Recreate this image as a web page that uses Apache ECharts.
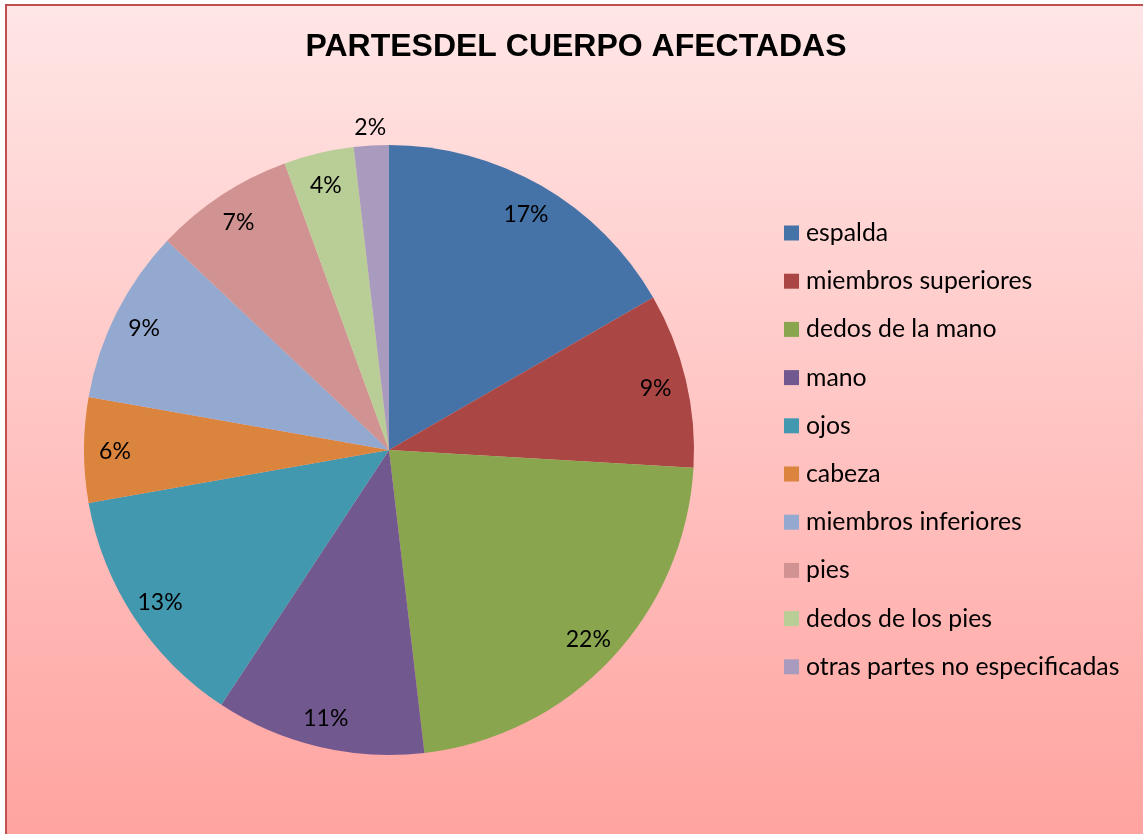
<!DOCTYPE html>
<html>
<head>
<meta charset="utf-8">
<script src="https://cdn.jsdelivr.net/npm/echarts@6/dist/echarts.min.js"></script>
<style>
  html, body { margin: 0; padding: 0; background: #fff; }
  #chart { width: 1143px; height: 834px; }
</style>
</head>
<body>
<div id="chart"></div>
<script>
// partes del cuerpo afectadas (casos)
var categories = ['espalda', 'miembros superiores', 'dedos de la mano', 'mano', 'ojos',
    'cabeza', 'miembros inferiores', 'pies', 'dedos de los pies', 'otras partes no especificadas'];
var casos = [9, 5, 12, 6, 7, 3, 5, 4, 2, 1];
var colores = ['#4572A7', '#AA4643', '#89A54E', '#71588F', '#4198AF',
    '#DB843D', '#93A9CF', '#D19392', '#B9CD96', '#A99BBD'];

var fontTxt = 'Lato, "Open Sans", sans-serif';

var pieData = categories.map(function (name, i) {
    return { name: name, value: casos[i], itemStyle: { color: colores[i] } };
});
// serie transparente solo para las etiquetas
var labelData = categories.map(function (name, i) {
    var item = { name: name, value: casos[i] };
    if (i === categories.length - 1) {
        item.label = { position: 'outside', distanceToLabelLine: 0 };
        item.labelLine = { show: false, length: 18, length2: 0 };
    }
    return item;
});

var myChart = echarts.init(document.getElementById('chart'));
var option = {
    backgroundColor: '#fff',
    animation: false,
    graphic: [{
        type: 'rect',
        z: -10,
        shape: { x: 6, y: 5, width: 1200, height: 900 },
        style: {
            fill: new echarts.graphic.LinearGradient(0, 0, 0, 1, [
                { offset: 0, color: '#FFE6E6' },
                { offset: 1, color: '#FF9E9A' }
            ]),
            stroke: '#C0504D',
            lineWidth: 2
        }
    }],
    title: {
        text: 'PARTESDEL CUERPO AFECTADAS',
        left: 571,
        textAlign: 'center',
        top: 26,
        textStyle: {
            fontFamily: '"Liberation Sans", Arial, sans-serif',
            fontWeight: 'bold',
            fontSize: 32,
            color: '#000'
        }
    },
    legend: {
        orient: 'vertical',
        left: 784,
        top: 220.5,
        padding: 0,
        itemWidth: 15,
        itemHeight: 15,
        itemGap: 23.2,
        icon: 'rect',
        selectedMode: false,
        textStyle: {
            fontFamily: fontTxt,
            fontSize: 24.8,
            color: '#000',
            padding: [0, 0, 0, 2]
        },
        data: categories
    },
    series: [{
        name: 'partes',
        type: 'pie',
        center: [389, 450],
        radius: [0, 305],
        startAngle: 90,
        clockwise: true,
        label: { show: false },
        labelLine: { show: false },
        itemStyle: { borderWidth: 0 },
        emphasis: { disabled: true },
        data: pieData
    }, {
        name: 'etiquetas',
        type: 'pie',
        center: [389, 450],
        radius: [237, 305],
        startAngle: 90,
        clockwise: true,
        silent: true,
        legendHoverLink: false,
        itemStyle: { color: 'rgba(0,0,0,0)', borderWidth: 0 },
        emphasis: { disabled: true },
        percentPrecision: 0,
        label: {
            show: true,
            position: 'inside',
            formatter: '{d}%',
            fontFamily: fontTxt,
            fontSize: 23,
            color: '#000'
        },
        labelLine: { show: false },
        labelLayout: function (params) {
            if (params.dataIndex === categories.length - 1) {
                return { align: 'center' };
            }
            return { dy: 2 };
        },
        data: labelData
    }]
};
myChart.setOption(option);
</script>
</body>
</html>
